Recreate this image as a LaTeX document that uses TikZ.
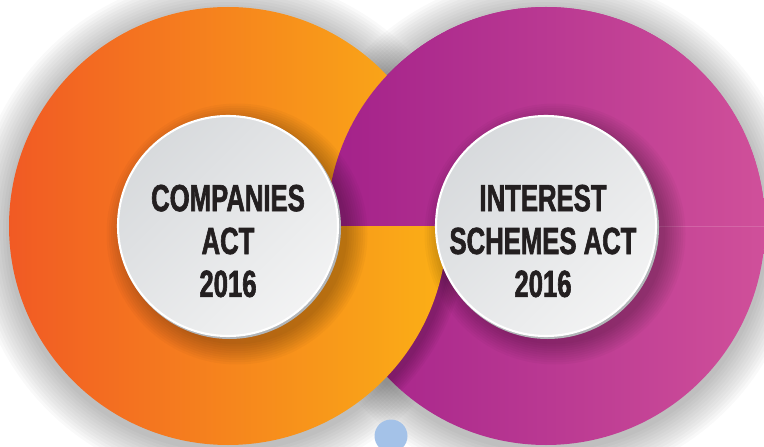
\documentclass[tikz,border=0pt]{standalone}
\usepackage{fontspec}
\usetikzlibrary{shadings}
\newfontfamily\actfont{Liberation Sans}[FakeStretch=0.68, BoldFeatures={FakeBold=1.6}]
\definecolor{orangeL}{HTML}{F15A24}
\definecolor{orangeR}{HTML}{FBB016}
\definecolor{magL}{HTML}{A3218A}
\definecolor{magR}{HTML}{D0509A}
\definecolor{discA}{HTML}{D2D5D8}
\definecolor{discB}{HTML}{F8F8F8}
\definecolor{ink}{HTML}{231F20}
\definecolor{dotblue}{HTML}{A4C2E8}

\begin{document}
\begin{tikzpicture}[
  halo/.style={black, opacity=0.022},
  disc/.style={upper left=discA, lower right=discB, upper right=discA!50!discB, lower left=discA!50!discB, draw=white, line width=1.2pt},
  acttext/.style={font=\actfont\bfseries\fontsize{21.5}{24.4}\selectfont, text=ink, align=center}
]
\useasboundingbox (0,0) rectangle (15.28,8.92);
\clip (0,0) rectangle (15.28,8.92);
% grey shadow round both rings
\foreach \cx in {4.56,10.92}
  \foreach \k in {1,...,12}
    \fill[halo] (\cx,4.32) circle ({4.38+0.06*\k});
% magenta ring, full
\shade[left color=magL, right color=magR] (10.92,4.40) circle (4.38);
% orange ring throws a shadow on the magenta one
\begin{scope}
\clip (10.92,4.40) circle (4.38);
\foreach \k in {1,...,8}
  \fill[black, opacity=0.03] (4.64,4.36) circle ({4.38+0.04*\k});
\end{scope}
% orange ring
\shade[left color=orangeL, right color=orangeR] (4.56,4.40) circle (4.38);
% upper half of the magenta ring lies over the orange one
\begin{scope}
\clip (0,4.40) rectangle (15.28,8.92);
\shade[left color=magL, right color=magR] (10.92,4.40) circle (4.38);
\end{scope}
\draw[magR!60!white, opacity=0.35, line width=0.4pt] (13,4.40) -- (15.28,4.40);
% shadows of the two inner discs
\foreach \cx in {4.56,10.92}
  \foreach \k in {1,...,10}
    \fill[black, opacity=0.026] (\cx+0.18,4.24) circle ({2.16+0.045*\k});
% inner discs
\fill[discA!85!black] (4.59,4.37) circle (2.23);
\fill[discA!85!black] (10.95,4.37) circle (2.23);
\shade[disc] (4.56,4.40) circle (2.2);
\shade[disc] (10.92,4.40) circle (2.2);
\node[acttext] (companies) at (4.56,4.10) {COMPANIES\\ACT\\2016};
\node[acttext] (interest) at (10.86,4.10) {INTEREST\\SCHEMES ACT\\2016};
% small dot below
\fill[dotblue] (7.82,0.20) circle (0.33);
\end{tikzpicture}
\end{document}
